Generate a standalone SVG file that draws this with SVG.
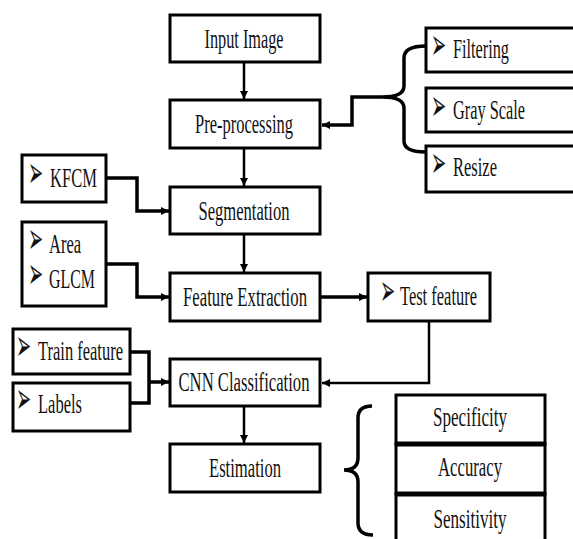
<svg xmlns="http://www.w3.org/2000/svg" width="573" height="539" viewBox="0 0 573 539">
<defs>
<marker id="ah" viewBox="0 0 10 10" refX="10" refY="5" markerWidth="8" markerHeight="8" markerUnits="userSpaceOnUse" orient="auto"><path d="M0,0 L10,5 L0,10 z" fill="#000"/></marker>
<style>
.box{fill:#fff;stroke:#000;stroke-width:3}
.t{font-family:"Liberation Serif","Times New Roman",serif;font-size:27px;fill:#111}
.c{text-anchor:middle}
.b{font-family:"DejaVu Sans",sans-serif;font-size:18px;fill:#111}
.ln{fill:none;stroke:#000;stroke-width:2.5}
.thick{fill:none;stroke:#000;stroke-width:3.5}
</style>
</defs>
<rect width="573" height="539" fill="#fff"/>
<g id="connectors">
<path class="ln" d="M244,63 V99" marker-end="url(#ah)"/>
<path class="ln" d="M244,149 V186" marker-end="url(#ah)"/>
<path class="ln" d="M244,235 V272" marker-end="url(#ah)"/>
<path class="ln" d="M244,407 V443" marker-end="url(#ah)"/>
<path class="thick" d="M426,46 Q404,46 404,58 L404,86 Q404,97 382,97 Q404,97 404,108 L404,141 Q404,152 426,152"/>
<path class="thick" d="M382,97 H352 V125 H322" marker-end="url(#ah)"/>
<path class="thick" d="M107,178 H137 V211 H169" marker-end="url(#ah)"/>
<path class="thick" d="M107,264 H137 V297 H169" marker-end="url(#ah)"/>
<path class="thick" d="M321,297 H367" marker-end="url(#ah)"/>
<path class="ln" d="M429,322 V383 H322" marker-end="url(#ah)"/>
<path class="thick" d="M131,352 H149 V403 H131"/>
<path class="thick" d="M149,382 H169" marker-end="url(#ah)"/>
<path class="thick" d="M372,406 Q358,406 358,418 L358,458 Q358,470 344,470 Q358,470 358,482 L358,523 Q358,535 373,535"/>
</g>
<g id="input-image"><rect class="box" x="170" y="15" width="150" height="47"/><text class="t c" x="244" y="48" textLength="79" lengthAdjust="spacingAndGlyphs">Input Image</text></g>
<g id="pre-processing"><rect class="box" x="170" y="100" width="150" height="48"/><text class="t c" x="244" y="133" textLength="98" lengthAdjust="spacingAndGlyphs">Pre-processing</text></g>
<g id="segmentation"><rect class="box" x="170" y="187" width="150" height="47"/><text class="t c" x="244" y="220" textLength="91" lengthAdjust="spacingAndGlyphs">Segmentation</text></g>
<g id="feature-extraction"><rect class="box" x="170" y="273" width="150" height="48"/><text class="t c" x="245" y="306" textLength="124" lengthAdjust="spacingAndGlyphs">Feature Extraction</text></g>
<g id="cnn-classification"><rect class="box" x="170" y="359" width="150" height="47"/><text class="t c" x="244" y="391" textLength="131" lengthAdjust="spacingAndGlyphs">CNN Classification</text></g>
<g id="estimation"><rect class="box" x="170" y="444" width="150" height="48"/><text class="t c" x="245" y="477" textLength="72" lengthAdjust="spacingAndGlyphs">Estimation</text></g>
<g id="kfcm"><rect class="box" x="22" y="155" width="84" height="47"/><text class="b" transform="translate(28,187) scale(1,2.4)">➢</text><text class="t" x="50" y="187" textLength="47" lengthAdjust="spacingAndGlyphs">KFCM</text></g>
<g id="area-glcm"><rect class="box" x="22" y="222" width="84" height="84"/><text class="b" transform="translate(28,253) scale(1,2.4)">➢</text><text class="t" x="49" y="253" textLength="32" lengthAdjust="spacingAndGlyphs">Area</text><text class="b" transform="translate(28,288) scale(1,2.4)">➢</text><text class="t" x="49" y="288" textLength="46" lengthAdjust="spacingAndGlyphs">GLCM</text></g>
<g id="train-feature"><rect class="box" x="13" y="329" width="117" height="45"/><text class="b" transform="translate(16,360) scale(1,2.4)">➢</text><text class="t" x="38" y="360" textLength="85" lengthAdjust="spacingAndGlyphs">Train feature</text></g>
<g id="labels"><rect class="box" x="13" y="383" width="117" height="48"/><text class="b" transform="translate(16,413) scale(1,2.4)">➢</text><text class="t" x="38" y="413" textLength="44" lengthAdjust="spacingAndGlyphs">Labels</text></g>
<g id="test-feature"><rect class="box" x="368" y="273" width="122" height="48"/><text class="b" transform="translate(380,305) scale(1,2.4)">➢</text><text class="t" x="400" y="305" textLength="77" lengthAdjust="spacingAndGlyphs">Test feature</text></g>
<g id="filtering"><rect class="box" x="426" y="28" width="160" height="44"/><text class="b" transform="translate(431,59) scale(1,2.4)">➢</text><text class="t" x="453" y="58" textLength="56" lengthAdjust="spacingAndGlyphs">Filtering</text></g>
<g id="gray-scale"><rect class="box" x="426" y="88" width="160" height="44"/><text class="b" transform="translate(431,120) scale(1,2.4)">➢</text><text class="t" x="453" y="119" textLength="72" lengthAdjust="spacingAndGlyphs">Gray Scale</text></g>
<g id="resize"><rect class="box" x="426" y="146" width="160" height="46"/><text class="b" transform="translate(431,177) scale(1,2.4)">➢</text><text class="t" x="453" y="176" textLength="44" lengthAdjust="spacingAndGlyphs">Resize</text></g>
<g id="specificity"><rect class="box" x="396" y="395" width="149" height="49"/><text class="t c" x="470" y="426" textLength="74" lengthAdjust="spacingAndGlyphs">Specificity</text></g>
<g id="accuracy"><rect class="box" x="396" y="444" width="149" height="50"/><text class="t c" x="470" y="476" textLength="64" lengthAdjust="spacingAndGlyphs">Accuracy</text></g>
<g id="sensitivity"><rect class="box" x="396" y="494" width="149" height="60"/><text class="t c" x="470" y="528" textLength="73" lengthAdjust="spacingAndGlyphs">Sensitivity</text></g>
<g id="dividers"><path d="M396,444 H545 M396,494 H545" stroke="#000" stroke-width="5"/></g>
</svg>
